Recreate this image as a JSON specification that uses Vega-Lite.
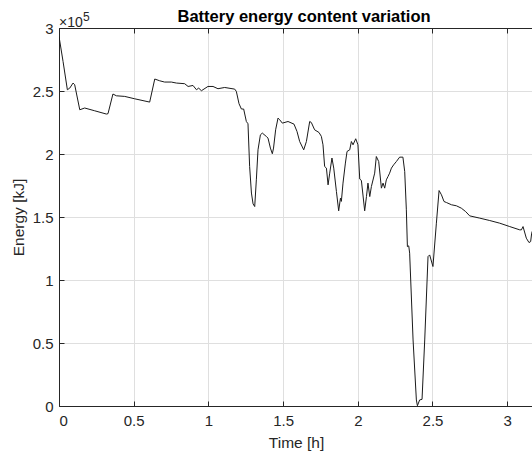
{
  "$schema": "https://vega.github.io/schema/vega-lite/v6.json",
  "width": 474,
  "height": 378,
  "autosize": {"type": "none"},
  "padding": {"left": 59, "top": 28, "right": 0, "bottom": 46},
  "background": "white",
  "title": {"text": "Battery energy content variation", "font": "Liberation Sans", "fontSize": 16.5, "fontWeight": "bold", "color": "#000000", "anchor": "middle", "dx": 8, "dy": 20, "offset": 6},
  "config": {
    "view": {"stroke": "#262626", "strokeWidth": 1},
    "axis": {
      "domainColor": "#262626", "tickColor": "#262626", "labelColor": "#262626", "titleColor": "#262626",
      "labelFont": "Liberation Sans", "titleFont": "Liberation Sans", "labelFontSize": 15, "titleFontSize": 15.5,
      "titleFontWeight": "normal", "gridColor": "#dfdfdf", "gridOpacity": 1, "tickSize": -5
    }
  },
  "resolve": {"axis": {"x": "independent"}},
  "layer": [
    {
      "data": {"values": [
        {"t": 0, "E": 293300}, {"t": 0.027, "E": 273500}, {"t": 0.056, "E": 251000}, {"t": 0.072, "E": 252300},
        {"t": 0.094, "E": 256300}, {"t": 0.105, "E": 255000}, {"t": 0.139, "E": 235100}, {"t": 0.172, "E": 236500},
        {"t": 0.239, "E": 234300}, {"t": 0.317, "E": 231700}, {"t": 0.328, "E": 232000}, {"t": 0.361, "E": 247600},
        {"t": 0.384, "E": 246200}, {"t": 0.44, "E": 245700}, {"t": 0.507, "E": 243800}, {"t": 0.607, "E": 241200},
        {"t": 0.641, "E": 259500}, {"t": 0.674, "E": 258100}, {"t": 0.707, "E": 257100}, {"t": 0.752, "E": 257100},
        {"t": 0.786, "E": 256300}, {"t": 0.841, "E": 255800}, {"t": 0.864, "E": 253600}, {"t": 0.897, "E": 254400},
        {"t": 0.92, "E": 251000}, {"t": 0.935, "E": 252300}, {"t": 0.953, "E": 250200}, {"t": 0.997, "E": 253600},
        {"t": 1.031, "E": 253600}, {"t": 1.064, "E": 251800}, {"t": 1.109, "E": 252800}, {"t": 1.176, "E": 251500},
        {"t": 1.187, "E": 249700}, {"t": 1.205, "E": 239900}, {"t": 1.221, "E": 235700}, {"t": 1.236, "E": 235700},
        {"t": 1.254, "E": 225800}, {"t": 1.265, "E": 224000}, {"t": 1.276, "E": 190100}, {"t": 1.288, "E": 169000},
        {"t": 1.299, "E": 160400}, {"t": 1.31, "E": 158300}, {"t": 1.321, "E": 179500}, {"t": 1.332, "E": 203300},
        {"t": 1.348, "E": 215200}, {"t": 1.361, "E": 216600}, {"t": 1.388, "E": 213900}, {"t": 1.399, "E": 212600},
        {"t": 1.415, "E": 204700}, {"t": 1.428, "E": 200200}, {"t": 1.436, "E": 204700}, {"t": 1.45, "E": 219200},
        {"t": 1.466, "E": 228500}, {"t": 1.477, "E": 227200}, {"t": 1.495, "E": 224500}, {"t": 1.533, "E": 225800},
        {"t": 1.573, "E": 223700}, {"t": 1.593, "E": 217900}, {"t": 1.611, "E": 209900}, {"t": 1.638, "E": 203300},
        {"t": 1.656, "E": 209900}, {"t": 1.678, "E": 225800}, {"t": 1.689, "E": 225000}, {"t": 1.711, "E": 219200},
        {"t": 1.74, "E": 217100}, {"t": 1.756, "E": 214000}, {"t": 1.767, "E": 207300}, {"t": 1.778, "E": 190100},
        {"t": 1.79, "E": 188800}, {"t": 1.801, "E": 175500}, {"t": 1.812, "E": 184800}, {"t": 1.827, "E": 196800},
        {"t": 1.839, "E": 188800}, {"t": 1.857, "E": 170200}, {"t": 1.872, "E": 154900}, {"t": 1.884, "E": 165000},
        {"t": 1.89, "E": 162400}, {"t": 1.901, "E": 176900}, {"t": 1.917, "E": 192800}, {"t": 1.928, "E": 202000},
        {"t": 1.946, "E": 203300}, {"t": 1.957, "E": 209900}, {"t": 1.968, "E": 207300}, {"t": 1.986, "E": 212100},
        {"t": 2.001, "E": 207300}, {"t": 2.013, "E": 180100}, {"t": 2.024, "E": 179000}, {"t": 2.046, "E": 154900},
        {"t": 2.058, "E": 166200}, {"t": 2.068, "E": 176900}, {"t": 2.08, "E": 166200}, {"t": 2.091, "E": 174200},
        {"t": 2.113, "E": 184800}, {"t": 2.124, "E": 198000}, {"t": 2.14, "E": 194000}, {"t": 2.158, "E": 172900},
        {"t": 2.169, "E": 176900}, {"t": 2.18, "E": 172900}, {"t": 2.191, "E": 179500}, {"t": 2.202, "E": 182100},
        {"t": 2.213, "E": 184800}, {"t": 2.225, "E": 188800}, {"t": 2.24, "E": 191400}, {"t": 2.258, "E": 194000},
        {"t": 2.28, "E": 197500}, {"t": 2.302, "E": 197500}, {"t": 2.314, "E": 186100}, {"t": 2.325, "E": 155700},
        {"t": 2.332, "E": 126500}, {"t": 2.341, "E": 127100}, {"t": 2.347, "E": 121300}, {"t": 2.37, "E": 52400},
        {"t": 2.392, "E": 4800}, {"t": 2.399, "E": 200}, {"t": 2.414, "E": 4800}, {"t": 2.43, "E": 5300},
        {"t": 2.448, "E": 52400}, {"t": 2.47, "E": 118600}, {"t": 2.481, "E": 119900}, {"t": 2.503, "E": 110700},
        {"t": 2.526, "E": 145100}, {"t": 2.544, "E": 171000}, {"t": 2.56, "E": 167600}, {"t": 2.577, "E": 162300},
        {"t": 2.593, "E": 161500}, {"t": 2.627, "E": 159700}, {"t": 2.66, "E": 158900}, {"t": 2.693, "E": 157000},
        {"t": 2.722, "E": 154300}, {"t": 2.749, "E": 150900}, {"t": 2.816, "E": 149100}, {"t": 2.883, "E": 147200},
        {"t": 2.95, "E": 145100}, {"t": 3.017, "E": 142400}, {"t": 3.084, "E": 139800}, {"t": 3.095, "E": 139800},
        {"t": 3.106, "E": 142400}, {"t": 3.128, "E": 133200}, {"t": 3.146, "E": 129700}, {"t": 3.157, "E": 130500},
        {"t": 3.164, "E": 137200}, {"t": 3.175, "E": 141000}
      ]},
      "mark": {"type": "line", "color": "#1a1a1a", "strokeWidth": 1, "clip": true},
      "encoding": {
        "x": {"field": "t", "type": "quantitative", "scale": {"domain": [0, 3.1727], "nice": false},
              "axis": {"title": "Time [h]", "values": [0, 0.5, 1, 1.5, 2, 2.5, 3], "format": "~g", "labelPadding": 12, "titlePadding": 7, "grid": true}},
        "y": {"field": "E", "type": "quantitative", "scale": {"domain": [0, 300000], "nice": false},
              "axis": {"title": "Energy [kJ]", "values": [0, 50000, 100000, 150000, 200000, 250000, 300000],
                       "labelExpr": "datum.value / 100000", "labelPadding": 11, "titlePadding": 6, "grid": true}}
      }
    },
    {
      "data": {"values": [{"t": 0}]},
      "mark": {"type": "point", "opacity": 0},
      "encoding": {
        "x": {"field": "t", "type": "quantitative", "axis": {"orient": "top", "labels": false, "grid": false, "domain": true, "ticks": true, "title": null, "values": [0, 0.5, 1, 1.5, 2, 2.5, 3]}},
        "y": {"datum": 300000, "type": "quantitative"}
      }
    },
    {
      "data": {"values": [{"s": "×10"}]},
      "mark": {"type": "text", "font": "Liberation Sans", "fontSize": 14, "color": "#262626", "align": "left", "baseline": "alphabetic", "dy": -1, "dx": 0},
      "encoding": {
        "x": {"datum": 0, "type": "quantitative", "axis": null},
        "y": {"datum": 300000, "type": "quantitative"},
        "text": {"field": "s"}
      }
    },
    {
      "data": {"values": [{"s": "5"}]},
      "mark": {"type": "text", "font": "Liberation Sans", "fontSize": 12, "color": "#262626", "align": "left", "baseline": "alphabetic", "dy": -7, "dx": 24},
      "encoding": {
        "x": {"datum": 0, "type": "quantitative", "axis": null},
        "y": {"datum": 300000, "type": "quantitative"},
        "text": {"field": "s"}
      }
    }
  ]
}
